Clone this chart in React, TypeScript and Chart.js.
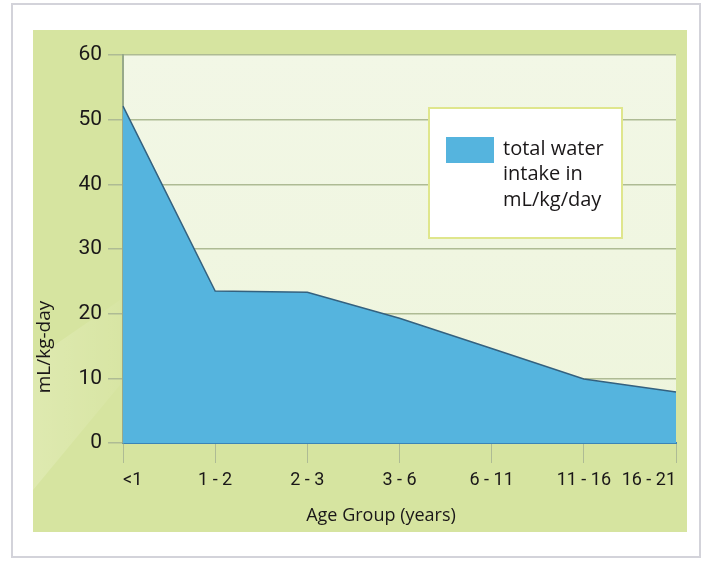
import React, { useEffect, useRef } from "react";
import { Chart, registerables } from "chart.js";

Chart.register(...registerables);

const categories = ["<1", "1 - 2", "2 - 3", "3 - 6", "6 - 11", "11 - 16", "16 - 21"];
const waterIntake = [52.1, 23.5, 23.3, 19.3, 14.6, 9.9, 7.9];
const yMin = 0;
const yMax = 60;
const yStep = 10;
const legendLines = ["total water", "intake in", "mL/kg/day"];
const yTitle = "mL/kg-day";
const xTitle = "Age Group (years)";

const FONT = "'Open Sans', 'Noto Sans', sans-serif";
const TICK_FONT = "Roboto, 'Open Sans', sans-serif";
const TEXT = "#1a1718";
const AREA = "#55b4de";
const PANEL = "#d6e4a0";
const GRID = "#aebb94";

const backgroundPlugin = {
  id: "bgPanels",
  beforeDraw(chart: any) {
    const { ctx, chartArea } = chart;
    ctx.save();
    ctx.fillStyle = "#ffffff";
    ctx.fillRect(0, 0, chart.width, chart.height);
    // outer frame
    ctx.strokeStyle = "#d3d3da";
    ctx.lineWidth = 2;
    ctx.strokeRect(12, 4, 688, 553);
    // green panel
    ctx.fillStyle = PANEL;
    ctx.fillRect(33, 30, 654, 502);
    // subtle lighter diagonal decoration lower-left
    const lg = ctx.createLinearGradient(33, 0, 120, 0);
    lg.addColorStop(0, "rgba(255,255,240,0.2)");
    lg.addColorStop(1, "rgba(255,255,240,0.05)");
    ctx.fillStyle = lg;
    ctx.beginPath();
    ctx.moveTo(33, 490);
    ctx.lineTo(120, 385);
    ctx.lineTo(120, 300);
    ctx.lineTo(33, 360);
    ctx.closePath();
    ctx.fill();
    // plot background
    const g = ctx.createLinearGradient(0, chartArea.top, 0, chartArea.bottom);
    g.addColorStop(0, "#f2f7e6");
    g.addColorStop(1, "#eef5dc");
    ctx.fillStyle = g;
    ctx.fillRect(chartArea.left, chartArea.top, chartArea.right - chartArea.left, chartArea.bottom - chartArea.top);
    ctx.restore();
  },
  afterDraw(chart: any) {
    const { ctx } = chart;
    ctx.save();
    ctx.fillStyle = TEXT;
    ctx.textAlign = "center";
    ctx.textBaseline = "middle";
    // x-axis title
    ctx.font = `18px ${FONT}`;
    ctx.fillText(xTitle, 381, 516);
    // y-axis title
    ctx.translate(45, 347);
    ctx.rotate(-Math.PI / 2);
    ctx.font = `19px ${FONT}`;
    ctx.fillText(yTitle, 0, 0);
    ctx.restore();

    // legend box
    ctx.save();
    const bx = 429, by = 108, bw = 193, bh = 130;
    ctx.fillStyle = "#ffffff";
    ctx.fillRect(bx, by, bw, bh);
    ctx.strokeStyle = "#dfe68c";
    ctx.lineWidth = 2;
    ctx.strokeRect(bx, by, bw, bh);
    ctx.fillStyle = AREA;
    ctx.fillRect(446, 137, 48, 26);
    ctx.fillStyle = TEXT;
    ctx.font = `20px ${FONT}`;
    ctx.textAlign = "left";
    ctx.textBaseline = "middle";
    legendLines.forEach((t, i) => ctx.fillText(t, 503, 149 + i * 25.5));
    ctx.restore();
  },
};

export default function App() {
  const ref = useRef<HTMLCanvasElement>(null);
  useEffect(() => {
    if (!ref.current) return;
    const chart = new Chart(ref.current, {
      type: "line",
      data: {
        labels: categories,
        datasets: [
          {
            label: "total water intake in mL/kg/day",
            data: waterIntake,
            borderColor: "#34617f",
            borderWidth: 1.5,
            backgroundColor: AREA,
            fill: "origin",
            tension: 0,
            pointRadius: 0,
          },
        ],
      },
      plugins: [backgroundPlugin],
      options: {
        responsive: false,
        animation: false,
        layout: { padding: { left: 33, top: 55, right: 35, bottom: 0 } },
        plugins: { legend: { display: false }, tooltip: { enabled: false } },
        scales: {
          x: {
            z: 1,
            offset: false,
            afterFit: (s: any) => { s.height = 118; },
            grid: { drawOnChartArea: false, drawTicks: true, tickLength: 20, color: GRID, lineWidth: 1 },
            border: { display: true, color: "#3b84b6", width: 2 },
            ticks: { align: "inner", color: TEXT, font: { family: TICK_FONT, size: 18 }, padding: 7, maxRotation: 0, autoSkip: false },
            title: { display: false },
          },
          y: {
            min: yMin,
            max: yMax,
            afterFit: (s: any) => { s.width = 90; },
            grid: { color: GRID, lineWidth: 1.5, tickLength: 15, drawTicks: true },
            border: { display: true, color: "#97a98a", width: 2 },
            ticks: { stepSize: yStep, color: TEXT, font: { family: TICK_FONT, size: 21 }, padding: 6 },
          },
        },
      },
    });
    return () => chart.destroy();
  }, []);
  return (
    <div style={{ position: "absolute", left: 0, top: 0, width: 711, height: 561 }}>
      <canvas ref={ref} width={711} height={561} />
    </div>
  );
}
